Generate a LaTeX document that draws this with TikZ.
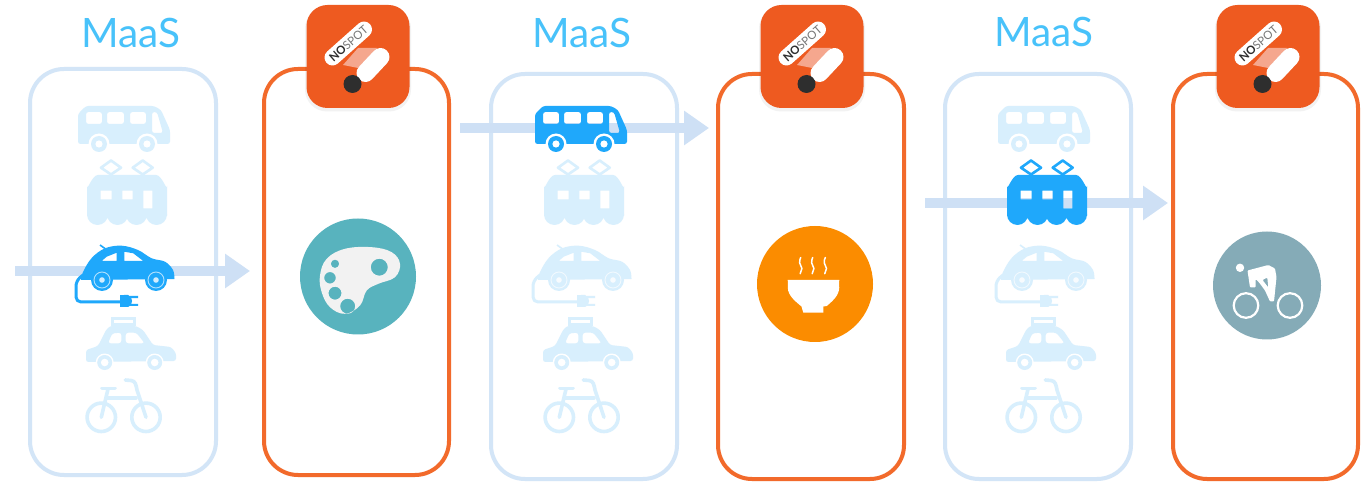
\documentclass[tikz,border=0pt]{standalone}
\usepackage{fontspec}
\setmainfont{Lato}
\usetikzlibrary{arrows.meta}
\definecolor{solidblue}{HTML}{1FA8FB}
\definecolor{fadeblue}{HTML}{D8EFFD}
\definecolor{maasblue}{HTML}{48C2FA}
\definecolor{boxblue}{HTML}{D3E5F7}
\definecolor{boxorange}{HTML}{F26A2B}
\definecolor{arrowblue}{HTML}{CEE0F5}
\definecolor{badgeorange}{HTML}{EE5A20}
\definecolor{badgepink}{HTML}{F5A78E}
\definecolor{tealc}{HTML}{58B3BE}
\definecolor{bowlc}{HTML}{FB8C00}
\definecolor{cyclec}{HTML}{85ABB7}
\definecolor{inkc}{HTML}{2E2E2E}
\tikzset{
  maasbox/.style={draw=boxblue,line width=4pt,rounded corners=34pt,inner sep=0pt,fill=white},
  spotbox/.style={draw=boxorange,line width=4pt,rounded corners=34pt,inner sep=0pt,fill=white},
  maaslabel/.style={text=maasblue,font=\fontsize{40.5}{40.5}\selectfont,inner sep=0pt},
  flow/.style={draw=arrowblue,line width=10pt,-{Triangle[length=25pt,width=33pt,fill=arrowblue]}},
  roundcirc/.style={circle,inner sep=0pt},
  busicon/.pic={
    \fill[#1,even odd rule,rounded corners=2.5pt]
      (0,38) -- (0,8) -- (8,0) -- (76,0) -- (83,4) -- (92,24) -- (92,38) -- cycle
      (8,6) rectangle (24,18) (29,6) rectangle (46,18) (52,6) rectangle (68,18)
      (74,6) -- (79,6) -- (85,27) -- (74,27) -- cycle;
    \fill[white] (21,38) circle[radius=10.5pt] (69,38) circle[radius=10.5pt];
    \fill[#1] (21,38) circle[radius=8pt] (69,38) circle[radius=8pt];
    \fill[white] (21,38) circle[radius=3.6pt] (69,38) circle[radius=3.6pt];
  },
  tramicon/.pic={
    \draw[#1,line width=2.6pt,line join=round]
      (14,7.7) -- (24,0.5) -- (34,7.7) -- (24,14.5) -- cycle
      (45.7,7.7) -- (55.7,0.5) -- (65.7,7.7) -- (55.7,14.5) -- cycle;
    \fill[#1,even odd rule]
      (0,26) to[out=-90,in=180] (11,15) -- (69,15) to[out=0,in=-90] (80,26)
      -- (80,56) -- (0,56) -- cycle
      (13.7,30.7) rectangle (24.7,39.3) (35.3,30.7) rectangle (45.7,39.3)
      (56.3,30.7) rectangle (65.3,48.3);
    \begin{scope}
      \clip (0,55) rectangle (80,66);
      \fill[#1] (10.5,54.5) circle[radius=10.5pt] (30.5,54.5) circle[radius=10.5pt]
        (49.5,54.5) circle[radius=10.5pt] (69.5,54.5) circle[radius=10.5pt];
    \end{scope}
  },
  caricon/.pic={
    \draw[#1,line width=1.6pt] (25,0) -- (32,5);
    \draw[#1,line width=3pt,line join=round,rounded corners=5pt]
      (8,30) -- (1,36) -- (1,57) -- (47,57);
    \fill[#1,even odd rule]
      plot[smooth,tension=.6] coordinates {(6,35) (8,27) (16.7,13) (30,3.3) (46.7,0.7) (63,5) (76.7,13.3) (90,16.7) (98,25) (99.5,34)}
      -- cycle
      (26.7,16) -- (31.7,11.7) -- (41.7,7.7) -- (41.7,16) -- cycle
      (49.3,6.7) -- (58.3,8.3) -- (68.3,16) -- (49.3,16) -- cycle;
    \fill[#1] (45,50) rectangle (50,62);
    \fill[#1] (49,50) -- (53,50) to[out=0,in=90] (57,56) to[out=-90,in=0] (53,62) -- (49,62) -- cycle;
    \fill[#1] (55,51) rectangle (63,53.2) (55,58.8) rectangle (63,61);
    \fill[#1] (27,35) circle[radius=11pt] (81,35) circle[radius=11pt];
    \draw[white,opacity=.65,line width=.9pt] (27,35) circle[radius=8pt] (81,35) circle[radius=8pt];
    \fill[white,opacity=.8] (27,35) circle[radius=2.8pt] (81,35) circle[radius=2.8pt];
  },
  taxiicon/.pic={
    \fill[#1] (25,0) rectangle (50,9);
    \fill[white] (28,3) rectangle (47,6);
    \fill[#1,even odd rule,rounded corners=2.5pt]
      (0,33) -- (12,29) -- (20,13) -- (24,9) -- (50,9) -- (57,13) -- (67,28) -- (85,30)
      -- (90,36) -- (90,44) -- (0,45) -- cycle
      (22,26.3) -- (26.3,16.3) -- (35.3,15.7) -- (35.3,26.3) -- cycle
      (39.7,15.7) -- (50.3,15.7) -- (58.7,26.3) -- (39.7,26.3) -- cycle;
    \fill[white] (18.7,45.5) circle[radius=9pt] (68.7,45.5) circle[radius=9pt];
    \fill[#1] (18.7,45.5) circle[radius=7.5pt] (68.7,45.5) circle[radius=7.5pt];
    \fill[white] (18.7,45.5) circle[radius=3.8pt] (68.7,45.5) circle[radius=3.8pt];
  },
  bikeicon/.pic={
    \begin{scope}[draw=#1,line width=3.6pt,line cap=round,line join=round]
      \draw (17.3,39.3) circle[radius=14.2pt] (62,39.3) circle[radius=14.2pt];
      \draw (18,10.3) -- (31,10.3);
      \draw (24,11) -- (17.3,39.3);
      \draw (23,20) -- (52,20);
      \draw (41.3,2) -- (47,2.5) to[out=0,in=100] (53,12) -- (62,39.3);
    \end{scope}
  },
  logoicon/.pic={
    \fill[black,opacity=.05,rounded corners=22pt] (-53,-50) rectangle (53,55);
    \fill[badgeorange,rounded corners=21pt] (-51.5,-51.5) rectangle (51.5,51.5);
    \fill[badgepink] (-15,8.5) -- (0,-8.5) -- (19,-8.5) -- (0,11.5) -- cycle;
    \draw[white,line width=16pt,line cap=round] (-25.5,1) -- (6,-27);
    \draw[white,line width=18pt,line cap=round] (7.5,16.5) -- (22.5,0.5);
    \fill[inkc] (-5.5,27.5) circle[radius=9pt];
    \node[rotate=41,inner sep=0pt,text=inkc,font=\fontsize{11.5}{11.5}\selectfont] at (-9.5,-13)
      {\textbf{NO}\textcolor{inkc!65}{SPOT}};
  },
  paletteicon/.pic={
    \fill[white!95!black,even odd rule]
      plot[smooth cycle,tension=.65] coordinates {(-38,-1) (-31.3,-17.7) (-13,-27.7) (13.7,-29.3) (33.7,-24.3) (42,-12.7) (37,0.7) (20.3,7.3) (8.7,14) (2,29) (-13,37.3) (-28,30.7) (-36.3,15.7)}
      (21.3,-9.3) circle[radius=8.5pt] (-23,-12.7) circle[radius=4.2pt]
      (-28,1.3) circle[radius=5.8pt] (-23,16.7) circle[radius=6.5pt]
      (-10.3,29.7) circle[radius=7.5pt];
  },
  bowlicon/.pic={
    \fill[white] (-27.3,-4) -- (24.3,-4) -- (24,0) to[out=-80,in=40] (11.7,22) -- (8.3,22.5)
      -- (8.3,28.7) -- (-11.7,28.7) -- (-13.5,22.5) to[out=140,in=-100] (-27,0) -- cycle;
    \foreach \sx in {-14.3,-2.3,10.3}{
      \draw[white,line width=1.5pt,line cap=round]
        (\sx,-26.5) to[out=-120,in=90] ({\sx-1},-21) to[out=-90,in=90] ({\sx+1.2},-15.5) to[out=-90,in=60] ({\sx-.5},-10.3);
    }
  },
  cycleicon/.pic={
    \draw[white,line width=2.2pt] (-21,20) circle[radius=12.3pt] (23,20) circle[radius=12.3pt];
    \fill[white] (-27,-17.7) circle[radius=4.2pt];
    \fill[white,even odd rule,rounded corners=1pt]
      (-19.5,-15) -- (1.3,-20.5) -- (8,-17) -- (9.5,-8.3) -- (7,16) -- (3,16) -- (-2,5)
      -- (-7.5,-2.5) -- (-11.5,-6.5) -- (-11.5,2) -- (-17,2) -- cycle
      (-4.5,-5.5) -- (0.3,-8) -- (1.3,2) -- cycle;
  }
}
\begin{document}
\begin{tikzpicture}[x=1pt,y=-1pt]
\useasboundingbox (0,0) rectangle (1371,494);
\fill[white] (0,0) rectangle (1371,494);

% boxes
\node[maasbox,minimum width=186pt,minimum height=406pt] (m1) at (123,272) {};
\node[spotbox,minimum width=185pt,minimum height=406pt] (s1) at (356.5,272) {};
\node[maasbox,minimum width=186pt,minimum height=405pt] (m2) at (584,276.5) {};
\node[spotbox,minimum width=186pt,minimum height=405pt] (s2) at (811,276.5) {};
\node[maasbox,minimum width=186pt,minimum height=405pt] (m3) at (1038,276.5) {};
\node[spotbox,minimum width=185pt,minimum height=405pt] (s3) at (1265.5,276.5) {};

% titles
\node[maaslabel] (t1) at (131,33) {MaaS};
\node[maaslabel] (t2) at (582,33) {MaaS};
\node[maaslabel] (t3) at (1044,32) {MaaS};

% connectors
\coordinate (a1s) at (15,271);
\coordinate (a1e) at (250,271);
\coordinate (a2s) at (460,128);
\coordinate (a2e) at (709,128);
\coordinate (a3s) at (925,203);
\coordinate (a3e) at (1168,203);
\draw[flow] (a1s) -- (a1e);
\draw[flow] (a2s) -- (a2e);
\draw[flow] (a3s) -- (a3e);

% column 1
\pic at (78,106) {busicon=fadeblue};
\pic at (87,160) {tramicon=fadeblue};
\pic at (75,245) {caricon=solidblue};
\pic at (86,317) {taxiicon=fadeblue};
\pic at (84,378) {bikeicon=fadeblue};
% column 2
\pic at (535,106) {busicon=solidblue};
\pic at (544,160) {tramicon=fadeblue};
\pic at (532,245) {caricon=fadeblue};
\pic at (543,317) {taxiicon=fadeblue};
\pic at (542,378) {bikeicon=fadeblue};
% column 3
\pic at (998,106) {busicon=fadeblue};
\pic at (1007,160) {tramicon=solidblue};
\pic at (995,245) {caricon=fadeblue};
\pic at (1006,317) {taxiicon=fadeblue};
\pic at (1004,378) {bikeicon=fadeblue};

% badges
\pic at (358,56.5) {logoicon};
\pic at (812,56.5) {logoicon};
\pic at (1268,56.5) {logoicon};

% discs
\node[roundcirc,fill=tealc,minimum size=116pt] (d1) at (358,276.5) {};
\pic at (d1.center) {paletteicon};
\node[roundcirc,fill=bowlc,minimum size=116pt] (d2) at (815,284) {};
\pic at (d2.center) {bowlicon};
\node[roundcirc,fill=cyclec,minimum size=108pt] (d3) at (1267,285.5) {};
\pic at (d3.center) {cycleicon};
\end{tikzpicture}
\end{document}
